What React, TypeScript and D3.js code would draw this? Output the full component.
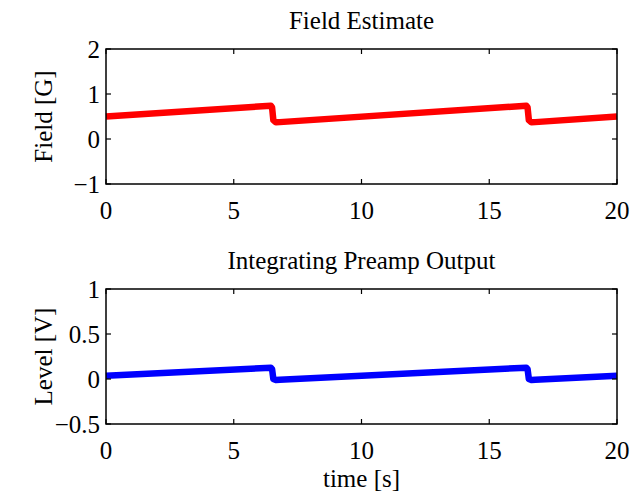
import * as d3 from 'd3';

const W = 631, H = 493;
const X0 = 106, X1 = 617;
const FONT = '"Liberation Serif", "Times New Roman", serif';

// sample times (s) at the ramp ends and around the two resets
const TIME = [0, 6.45, 6.5, 6.55, 6.65, 6.8, 16.45, 16.5, 16.55, 16.65, 16.8, 20];
const FIELD = [0.5, 0.74, 0.7, 0.42, 0.37, 0.375, 0.74, 0.7, 0.42, 0.37, 0.375, 0.5];
const LEVEL = [0.036, 0.126, 0.11, 0.0, -0.012, -0.008, 0.126, 0.11, 0.0, -0.012, -0.008, 0.037];

const X_TICKS = [0, 5, 10, 15, 20];
const FIELD_TICKS = [-1, 0, 1, 2];
const LEVEL_TICKS = [-0.5, 0, 0.5, 1];

const fmt = (v: number) => (v < 0 ? '\u2212' + Math.abs(v) : String(v));

type PanelProps = {
  top: number; bottom: number; domain: [number, number]; yTicks: number[];
  values: number[]; color: string; title: string; ylabel: string; xlabel?: string;
};

function Panel({ top, bottom, domain, yTicks, values, color, title, ylabel, xlabel }: PanelProps) {
  const x = d3.scaleLinear().domain([0, 20]).range([X0, X1]);
  const y = d3.scaleLinear().domain(domain).range([bottom, top]);
  const line = d3.line<number>().x((_, i) => x(TIME[i])).y(d => y(d));
  const tl = 5;
  return (
    <g fontFamily={FONT} fill="#000">
      <path d={line(values) || ''} fill="none" stroke={color} strokeWidth={6.5}
        strokeLinejoin="round" strokeLinecap="butt" />
      <rect x={X0} y={top} width={X1 - X0} height={bottom - top} fill="none" stroke="#000" strokeWidth={1.5} />
      {X_TICKS.map(t => (
        <g key={'x' + t}>
          <line x1={x(t)} x2={x(t)} y1={bottom} y2={bottom - tl} stroke="#000" strokeWidth={1.2} />
          <line x1={x(t)} x2={x(t)} y1={top} y2={top + tl} stroke="#000" strokeWidth={1.2} />
          <text x={x(t)} y={bottom + 35} textAnchor="middle" fontSize={25}>{t}</text>
        </g>
      ))}
      {yTicks.map(t => (
        <g key={'y' + t}>
          <line x1={X0} x2={X0 + tl} y1={y(t)} y2={y(t)} stroke="#000" strokeWidth={1.2} />
          <line x1={X1} x2={X1 - tl} y1={y(t)} y2={y(t)} stroke="#000" strokeWidth={1.2} />
          <text x={100} y={y(t) + 9} textAnchor="end" fontSize={25}>{fmt(t)}</text>
        </g>
      ))}
      <text x={(X0 + X1) / 2} y={top - 20} textAnchor="middle" fontSize={25}>{title}</text>
      <text transform={`translate(52,${(top + bottom) / 2}) rotate(-90)`} textAnchor="middle" fontSize={25}>{ylabel}</text>
      {xlabel && <text x={(X0 + X1) / 2} y={bottom + 63} textAnchor="middle" fontSize={25}>{xlabel}</text>}
    </g>
  );
}

export default function App() {
  return (
    <svg width={W} height={H} style={{ position: 'absolute', left: 0, top: 0, background: '#fff' }}>
      <rect width={W} height={H} fill="#fff" />
      <Panel top={49} bottom={184} domain={[-1, 2]} yTicks={FIELD_TICKS} values={FIELD}
        color="#ff0000" title="Field Estimate" ylabel="Field [G]" />
      <Panel top={289} bottom={424} domain={[-0.5, 1]} yTicks={LEVEL_TICKS} values={LEVEL}
        color="#0000ff" title="Integrating Preamp Output" ylabel="Level [V]" xlabel="time [s]" />
    </svg>
  );
}
